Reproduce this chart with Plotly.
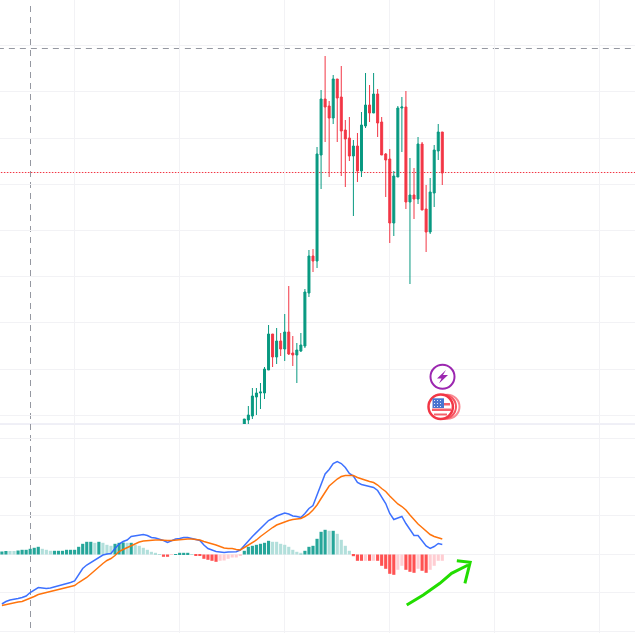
import plotly.graph_objects as go

W, H = 635, 633

# ---- price pane (arbitrary price units) ----
candle_index = list(range(60, 110))
open_ = [0, 4, 8, 27, 31, 31, 54, 90, 67, 83, 75, 92, 71, 69, 73, 78, 131, 168, 163, 269,
         325, 318, 306, 345, 327, 294, 286, 268, 278, 253, 298, 319, 311, 330, 302, 270, 265, 201, 247, 316,
         317, 222, 229, 225, 280, 215, 192, 231, 273, 292]
high = [5, 18, 36, 36, 41, 57, 99, 90, 96, 91, 110, 138, 88, 81, 91, 135, 174, 175, 277, 334,
        368, 323, 349, 345, 358, 304, 307, 284, 291, 312, 351, 339, 351, 335, 307, 271, 275, 253, 318, 327,
        333, 266, 256, 287, 282, 239, 246, 279, 300, 292]
low = [0, 0, 5, 9, 15, 25, 54, 57, 60, 68, 63, 69, 58, 41, 72, 76, 127, 152, 156, 235,
       282, 247, 300, 282, 248, 237, 263, 208, 242, 247, 296, 302, 311, 287, 269, 227, 181, 188, 247, 272,
       215, 140, 205, 220, 214, 172, 190, 217, 264, 239]
close = [5, 9, 28, 31, 32, 55, 90, 67, 83, 75, 92, 70, 69, 74, 79, 132, 168, 163, 270, 325,
         317, 306, 345, 326, 293, 285, 268, 278, 253, 299, 319, 311, 330, 301, 269, 264, 201, 248, 316, 317,
         222, 229, 225, 280, 214, 192, 232, 274, 292, 251]

price_level_dashed = 375.5
price_level_dotted = 251.5
crosshair_bar = 7.08

# ---- oscillator pane ----
hist = [3, 3.5, 3.5, 3.5, 4, 4.7, 4.7, 5.7, 6.7, 7.7, 5.7, 4.7, 3.7, 3.7, 3.7, 3.7, 4.7, 4.7, 4.7, 7.7,
        10.7, 12.7, 12.7, 11.7, 12.7, 11.7, 9.7, 8.7, 10.7, 11.7, 12, 11.7, 11.7, 9.7, 8.7, 6.7, 4.7, 2.7, 1.7, 0.5,
        -2.3, -2.3, -0.5, 0.3, 1.7, 1.7, 1.7, 0.5, -1.3, -1.5, -4.3, -5.3, -6.3, -7.3, -6.3, -6, -4.3, -3, -3, -1.5,
        3.7, 7.7, 8.7, 9.7, 10.7, 11.7, 13.7, 12.7, 12.7, 10.7, 9.7, 7.7, 4.7, 2.7, 1.7, 3.7, 7.7, 8.7, 15.7, 22.7,
        24.7, 23.7, 23.7, 20.7, 14.7, 8.7, 3.7, -1.7, -6.3, -6.3, -6.3, -6.3, -6.3, -6.3, -11.3, -14.3, -19.3, -20.3, -15.3, -11.3,
        -15.3, -17.3, -18.3, -14.3, -16.3, -18.3, -15.3, -11.3, -6.3, -6.3]
hist_tone = ["d", "d", "l", "l", "d", "d", "d", "d", "d", "d", "l", "l", "l", "d", "d", "d", "d", "d", "d", "d",
             "d", "d", "d", "l", "d", "l", "l", "l", "d", "d", "d", "l", "d", "l", "l", "l", "l", "l", "l", "l",
             "d", "d", "l", "d", "d", "d", "d", "l", "d", "d", "d", "d", "d", "d", "l", "l", "l", "l", "l", "l",
             "d", "d", "d", "d", "d", "d", "d", "l", "l", "l", "l", "l", "l", "l", "l", "d", "d", "d", "d", "d",
             "d", "l", "d", "l", "l", "l", "l", "d", "d", "d", "l", "d", "l", "d", "d", "d", "d", "d", "l", "l",
             "d", "d", "d", "l", "d", "d", "l", "l", "l", "l"]
macd = [-49.5, -47, -45.5, -45, -44, -43, -41.5, -38, -35.5, -33, -33.5, -34, -33.5, -32.5, -31.5, -30.5, -29, -28, -26.5, -19.5,
        -14, -10.5, -8, -5, -2.5, -0.5, 0.5, 1, 6, 10.5, 13, 14.5, 18, 18.5, 19.5, 20, 19, 17, 16.5, 15.5,
        14, 12, 14, 15.5, 16, 17, 17, 16, 15, 14, 9.5, 6, 4.5, 3, 2.5, 2, 2.5, 2.8, 2.8, 4.5,
        9.5, 13.5, 18, 22, 25.5, 29.5, 34, 36, 38.5, 40, 41.5, 40.5, 38.5, 38, 37, 41, 46, 49, 59.5, 71,
        80.5, 85, 91, 93, 91, 87, 81, 78.5, 72, 70, 69, 68, 67, 64, 58, 51, 41, 35, 36.5, 38,
        31, 25, 19, 19, 14, 8.5, 6, 8, 11, 10]
signal = [-51, -50, -49, -48, -47.5, -47, -45.5, -44, -42, -40, -39, -37.5, -37, -36, -35, -34, -33, -32, -31, -28,
          -25.5, -23, -19.5, -16, -12, -9, -6, -4, -1, 3, 5, 7, 9, 11, 12.5, 13.5, 14, 14.5, 14.5, 14.5,
          14, 14, 14, 14.5, 15, 15, 15.5, 15.5, 15, 14.5, 13, 12, 11, 9.5, 8, 6.5, 6, 6, 5, 4.5,
          7, 9.5, 12, 14.5, 18, 21, 24.5, 27, 29.5, 31, 33, 34, 35, 35.5, 36, 38, 40.5, 44.5, 49.5, 56,
          63, 68.5, 72, 75.5, 78, 79, 79, 79, 77, 75.5, 74, 73, 72, 69.5, 66, 63, 58.5, 54, 50.5, 48,
          44.5, 39.5, 34.5, 30.5, 27, 23.5, 20, 18, 16.5, 15.5]
bar_index = list(range(len(hist)))

# hand-drawn arrow, in (bar, oscillator) units
arrow_x = [100.2, 104.3, 108.4, 111.3, 115.4, None, 112.6, 115.9, 114.6]
arrow_y = [-50.5, -40.5, -28.8, -18.8, -10.5, None, -6.2, -7.8, -28.8]

GREEN, RED = "#089981", "#f23645"
TONES = {(True, "d"): "#26a69a", (True, "l"): "#b2dfdb", (False, "d"): "#ff5252", (False, "l"): "#ffcdd2"}
hist_colors = [TONES[(v >= 0, t)] for v, t in zip(hist, hist_tone)]
GRID, SEP, DASH = "#f2f2f5", "#e0e0ee", "#9598a1"

fig = go.Figure()
fig.add_trace(go.Candlestick(
    x=candle_index, open=open_, high=high, low=low, close=close,
    increasing=dict(line=dict(color=GREEN, width=1), fillcolor=GREEN),
    decreasing=dict(line=dict(color=RED, width=1), fillcolor=RED),
    whiskerwidth=0, xaxis="x", yaxis="y", hoverinfo="skip"))
fig.add_trace(go.Bar(x=bar_index, y=hist, marker=dict(color=hist_colors, line_width=0),
                     width=0.78, xaxis="x2", yaxis="y2", hoverinfo="skip"))
fig.add_trace(go.Scatter(x=bar_index, y=macd, mode="lines", line=dict(color="#2962ff", width=1.5),
                         xaxis="x2", yaxis="y2", hoverinfo="skip", opacity=0.9))
fig.add_trace(go.Scatter(x=bar_index, y=signal, mode="lines", line=dict(color="#ff6d00", width=1.5),
                         xaxis="x2", yaxis="y2", hoverinfo="skip", opacity=0.95))
fig.add_trace(go.Scatter(x=arrow_x, y=arrow_y, mode="lines", connectgaps=False,
                         line=dict(color="#22dd00", width=3), xaxis="x2", yaxis="y2", hoverinfo="skip"))


def px(x):
    return x / W


def py(y):
    return 1 - y / H


def circle(cx, cy, r, line, fill="white", width=2):
    return dict(type="circle", xref="paper", yref="paper", x0=px(cx - r), x1=px(cx + r),
                y0=py(cy + r), y1=py(cy - r), line=dict(color=line, width=width), fillcolor=fill, layer="above")


def rect(x0, y0, x1, y1, fill):
    return dict(type="rect", xref="paper", yref="paper", x0=px(x0), x1=px(x1), y0=py(y1), y1=py(y0),
                line_width=0, fillcolor=fill, layer="above")


shapes = [
    dict(type="line", xref="paper", yref="paper", x0=0, x1=1, y0=py(424), y1=py(424),
         line=dict(color=SEP, width=1), layer="below"),
    dict(type="line", xref="x", yref="y", x0=-1, x1=160, y0=price_level_dashed, y1=price_level_dashed,
         line=dict(color=DASH, width=1, dash="6px,5px"), layer="below"),
    dict(type="line", xref="x", yref="y", x0=-1, x1=160, y0=price_level_dotted, y1=price_level_dotted,
         line=dict(color=RED, width=1, dash="1.5px,1.5px"), layer="below"),
    dict(type="line", xref="x2", yref="y2", x0=-1, x1=160, y0=0, y1=0,
         line=dict(color=DASH, width=1, dash="6px,5px"), layer="below"),
    dict(type="line", xref="x2", yref="paper", x0=crosshair_bar, x1=crosshair_bar, y0=py(628), y1=py(4),
         line=dict(color=DASH, width=1, dash="6px,5px"), layer="below"),
    # lightning badge
    circle(442.5, 376.7, 12, "#9c27b0"),
    dict(type="path", xref="paper", yref="paper", fillcolor="#9c27b0", line_width=0, layer="above",
         path="M %f %f L %f %f L %f %f L %f %f L %f %f L %f %f Z" % (
             px(446), py(370), px(437), py(378.5), px(441.5), py(378.5),
             px(439), py(383.5), px(448), py(375), px(443), py(375))),
    # flag badge
    circle(447.5, 406.7, 12, "#f98a92", "white", 2),
    circle(444, 406.7, 12, "#f7525f", "white", 2),
    circle(440.7, 406.7, 12.2, "#f23645", "white", 2.5),
    rect(433, 403, 450, 405.5, "#f5606b"),
    rect(432, 408.5, 451, 411, "#f5606b"),
    rect(434, 413.5, 447, 415.5, "#f5606b"),
    rect(432.5, 398.3, 444, 408, "#4a74cf"),
]
for dx in (434, 437, 440):
    for dy in (400, 403, 406):
        shapes.append(rect(dx, dy, dx + 1, dy + 1, "#dfe7f8"))

axis_x = dict(range=[-0.47, 156.7], tick0=18, dtick=26, showgrid=True, gridcolor=GRID, gridwidth=1,
              zeroline=False, showticklabels=False, ticks="", showline=False, fixedrange=True)
fig.update_layout(
    width=W, height=H, margin=dict(l=0, r=0, t=0, b=0), autosize=False,
    paper_bgcolor="white", plot_bgcolor="white", showlegend=False, boxgap=0.3,
    xaxis=dict(axis_x, domain=[0, 1], anchor="y", rangeslider=dict(visible=False)),
    xaxis2=dict(axis_x, domain=[0, 1], anchor="y2"),
    yaxis=dict(domain=[1 - 424 / H, 1], range=[0, 424], tick0=8.7, dtick=46.2, showgrid=True, gridcolor=GRID,
               zeroline=False, showticklabels=False, ticks="", fixedrange=True),
    yaxis2=dict(domain=[0, 1 - 425 / H], range=[-78.5, 129.5], tick0=0.5, dtick=38.5, showgrid=True, gridcolor=GRID,
                zeroline=False, showticklabels=False, ticks="", fixedrange=True),
    shapes=shapes,
)
fig.write_html("out.html", config=dict(displayModeBar=False),
               post_script="document.body.style.margin='0';document.documentElement.style.overflow='hidden';")
